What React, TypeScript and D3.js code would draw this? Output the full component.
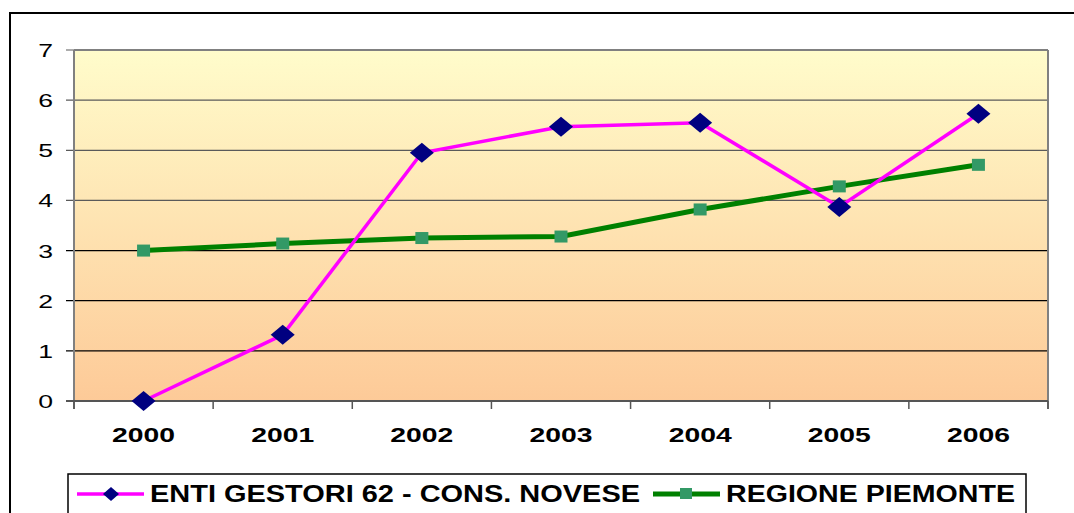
import React from "react";
import * as d3 from "d3";

const years = ["2000", "2001", "2002", "2003", "2004", "2005", "2006"];
const entiValues = [0, 1.32, 4.95, 5.47, 5.55, 3.87, 5.73];
const regioneValues = [3.0, 3.14, 3.25, 3.28, 3.82, 4.28, 4.71];
const yTicks = [0, 1, 2, 3, 4, 5, 6, 7];
const seriesNames = ["ENTI GESTORI 62 - CONS. NOVESE", "REGIONE PIEMONTE"];

const W = 1074;
const H = 513;
const left = 74;
const right = 1048;
const top = 50;
const bottom = 401;

export default function App() {
  const x = d3.scaleBand<string>().domain(years).range([left, right]).padding(0);
  const y = d3.scaleLinear().domain([0, 7]).range([bottom, top]);
  const cx = (d: string) => (x(d) as number) + x.bandwidth() / 2;
  const line = d3
    .line<number>()
    .x((_, i) => cx(years[i]))
    .y((v) => y(v))
    .curve(d3.curveLinear);
  const diamond = (px: number, py: number, w: number, h: number) =>
    `M${px},${py - h / 2}L${px + w / 2},${py}L${px},${py + h / 2}L${px - w / 2},${py}Z`;
  const font = "Arial, 'Liberation Sans', sans-serif";
  const boundaries = d3.range(years.length + 1).map((i) => left + i * x.bandwidth());

  return (
    <svg
      width={W}
      height={H}
      style={{ position: "absolute", left: 0, top: 0, background: "#fff" }}
    >
      <defs>
        <linearGradient id="bg" x1="0" y1="0" x2="0" y2="1">
          <stop offset="0%" stopColor="#FFFCCB" />
          <stop offset="100%" stopColor="#FDCA98" />
        </linearGradient>
      </defs>
      {/* outer frame */}
      <rect x={10} y={13} width={1200} height={800} fill="none" stroke="#000" strokeWidth={2} />
      {/* plot background */}
      <rect x={left} y={top} width={right - left} height={bottom - top} fill="url(#bg)" />
      {/* gridlines */}
      {yTicks.map((t) => (
        <line
          key={"g" + t}
          x1={left - 8}
          x2={right}
          y1={y(t)}
          y2={y(t)}
          stroke={t >= 4 ? "#5a5a5a" : "#000"}
          strokeWidth={1.2}
        />
      ))}
      {/* plot borders */}
      <line x1={left} x2={left} y1={top} y2={bottom + 8} stroke="#808080" strokeWidth={2} />
      <line x1={right} x2={right} y1={top} y2={bottom + 8} stroke="#808080" strokeWidth={2} />
      <line x1={left} x2={right} y1={top} y2={top} stroke="#808080" strokeWidth={2} />
      <line x1={left - 8} x2={right} y1={bottom} y2={bottom} stroke="#555" strokeWidth={2} />
      {boundaries.map((bx, i) => (
        <line key={"xt" + i} x1={bx} x2={bx} y1={bottom} y2={bottom + 8} stroke="#555" strokeWidth={1.5} />
      ))}
      {/* y labels */}
      {yTicks.map((t) => (
        <text
          key={"yl" + t}
          transform={`translate(53,${y(t) + 7}) scale(1.4,1)`}
          textAnchor="end"
          fontFamily={font}
          fontSize={19}
          fill="#000"
        >
          {t}
        </text>
      ))}
      {/* x labels */}
      {years.map((yr) => (
        <text
          key={"xl" + yr}
          x={cx(yr) - 31.5}
          y={442}
          textLength={63}
          lengthAdjust="spacingAndGlyphs"
          fontFamily={font}
          fontSize={21}
          fontWeight="bold"
          fill="#000"
        >
          {yr}
        </text>
      ))}
      {/* series */}
      <path d={line(regioneValues) || ""} fill="none" stroke="#008000" strokeWidth={5} />
      <path d={line(entiValues) || ""} fill="none" stroke="#FF00FF" strokeWidth={3.5} />
      {regioneValues.map((v, i) => (
        <rect
          key={"sq" + i}
          x={cx(years[i]) - 6.5}
          y={y(v) - 6}
          width={13}
          height={12}
          fill="#339966"
        />
      ))}
      {entiValues.map((v, i) => (
        <path key={"dm" + i} d={diamond(cx(years[i]), y(v), 24, 20)} fill="#000080" />
      ))}
      {/* legend */}
      <rect x={68} y={474} width={958} height={60} fill="#fff" stroke="#000" strokeWidth={1.5} />
      <line x1={77} x2={144} y1={494} y2={494} stroke="#FF00FF" strokeWidth={3.5} />
      <path d={diamond(111, 494, 16, 14)} fill="#000080" />
      <text
        x={150}
        y={502}
        textLength={490}
        lengthAdjust="spacingAndGlyphs"
        fontFamily={font}
        fontSize={23}
        fontWeight="bold"
        fill="#000"
      >
        {seriesNames[0]}
      </text>
      <line x1={653} x2={720} y1={494} y2={494} stroke="#008000" strokeWidth={5} />
      <rect x={680} y={488} width={12} height={11} fill="#339966" />
      <text
        x={726}
        y={502}
        textLength={289}
        lengthAdjust="spacingAndGlyphs"
        fontFamily={font}
        fontSize={23}
        fontWeight="bold"
        fill="#000"
      >
        {seriesNames[1]}
      </text>
    </svg>
  );
}
